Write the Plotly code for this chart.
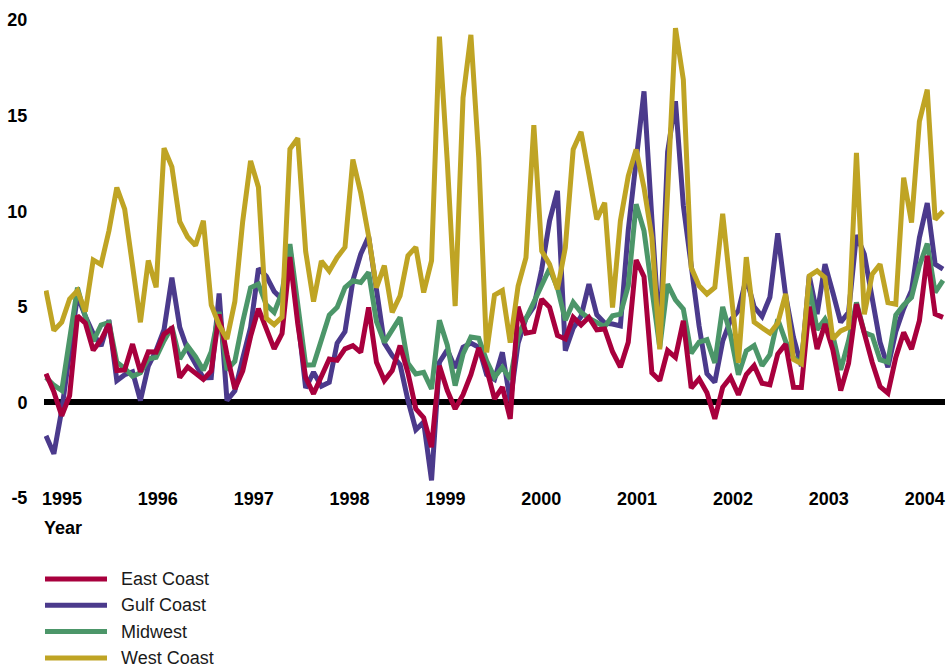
import plotly.graph_objects as go

# ---------------- data ----------------
series_names = ["East Coast", "Gulf Coast", "Midwest", "West Coast"]
year_labels = ["1995", "1996", "1997", "1998", "1999", "2000", "2001", "2002", "2003", "2004"]
y_tick_values = [-5, 0, 5, 10, 15, 20]
y_tick_labels = ["-5", "0", "5", "10", "15", "20"]

east_coast = [
    1.5, 0.55, -0.7, 0.35, 4.53, 4.15, 2.73, 3.27, 4.1, 1.67,
    1.7, 3.05, 1.6, 2.65, 2.63, 3.57, 3.87, 1.3, 1.85, 1.55,
    1.2, 1.65, 4.6, 2.5, 0.7, 1.65, 3.45, 4.9, 3.8, 2.8,
    3.6, 7.6, 4.1, 1.3, 0.45, 1.3, 2.27, 2.2, 2.8, 2.97,
    2.62, 4.97, 2.1, 1.14, 1.66, 2.97, 1.55, -0.34, -0.8, -2.34,
    1.92, 0.62, -0.34, 0.4, 1.45, 2.85, 1.75, 0.18, 0.8, -0.86,
    5.0, 3.62, 3.7, 5.4, 4.97, 3.5, 3.32, 4.45, 4.05, 4.45,
    3.8, 3.84, 2.65, 1.84, 3.15, 7.45, 6.58, 1.55, 1.14, 2.71,
    2.36, 4.27, 0.75, 1.23, 0.5, -0.86, 0.79, 1.31, 0.4, 1.45,
    1.92, 1.0, 0.92, 2.53, 3.05, 0.79, 0.78, 5.0, 2.79, 4.1,
    2.75, 0.62, 2.05, 5.14, 3.6, 2.1, 0.83, 0.48, 2.35, 3.66,
    2.79, 4.27, 7.67, 4.62, 4.45,
]

gulf_coast = [
    -1.75, -2.69, -0.4, 2.6, 5.6, 4.5, 3.6, 2.95, 4.3, 1.14,
    1.45, 1.6, 0.1, 1.9, 2.72, 3.8, 6.53, 3.92, 2.75, 2.0,
    1.28, 1.3, 5.7, 0.1, 0.6, 2.3, 3.92, 7.0, 6.6, 5.8,
    5.4, 8.1, 4.3, 0.75, 1.58, 0.85, 1.05, 3.1, 3.7, 6.37,
    7.76, 8.67, 5.9, 3.1, 2.45, 1.97, 0.1, -1.43, -1.03, -4.08,
    2.1, 2.75, 1.8, 2.88, 3.1, 2.88, 1.45, 1.2, 2.62, 0.05,
    3.1, 4.4, 5.0, 6.95, 9.5, 11.06, 2.71, 3.88, 4.5, 6.19,
    4.58, 4.15, 4.1, 4.0, 9.0, 12.5, 16.27, 9.6, 3.3, 13.1,
    15.75, 10.3, 7.0, 4.0, 1.5, 1.05, 3.2, 4.3, 4.8, 6.5,
    5.0, 4.5, 5.5, 8.85, 5.6, 3.4, 1.9, 6.62, 4.62, 7.23,
    5.75, 4.19, 4.71, 8.75, 7.75, 5.5, 3.15, 1.84, 3.7, 4.9,
    5.85, 8.62, 10.42, 7.23, 6.97,
]

midwest = [
    1.3, 0.9, 0.62, 3.2, 6.0, 4.5, 3.2, 4.05, 4.18, 2.1,
    1.78, 1.37, 1.55, 2.27, 2.36, 3.23, 3.95, 2.27, 2.95, 2.4,
    1.68, 2.65, 4.73, 1.7, 2.15, 4.22, 6.0, 6.19, 5.1, 4.71,
    5.75, 8.28, 5.0, 1.95, 1.97, 3.35, 4.57, 4.97, 6.01, 6.36,
    6.27, 6.8, 4.23, 3.14, 3.84, 4.45, 2.05, 1.49, 1.57, 0.7,
    4.29, 3.0, 0.88, 2.53, 3.42, 3.36, 2.18, 1.31, 1.84, 1.2,
    3.5, 4.36, 5.23, 6.15, 7.0, 6.0, 4.3, 5.23, 4.71, 4.4,
    4.19, 3.96, 4.53, 4.62, 6.1, 10.37, 8.97, 5.8, 2.88, 6.19,
    5.36, 4.88, 2.57, 3.15, 3.28, 2.06, 5.0, 3.53, 1.45, 2.7,
    2.97, 1.92, 2.5, 4.35, 3.2, 2.35, 2.05, 6.1, 3.8, 4.36,
    3.5, 1.7, 3.23, 5.23, 3.65, 3.49, 2.23, 2.1, 4.57, 5.1,
    5.49, 7.15, 8.3, 5.75, 6.38,
]

west_coast = [
    5.85, 3.76, 4.19, 5.41, 5.85, 4.75, 7.45, 7.21, 8.98, 11.24,
    10.11, 7.2, 4.19, 7.42, 6.02, 13.3, 12.32, 9.45, 8.65, 8.2,
    9.5, 5.1, 4.05, 3.32, 5.27, 9.47, 12.63, 11.25, 4.4, 4.07,
    4.46, 13.25, 13.82, 7.9, 5.27, 7.4, 6.87, 7.58, 8.12, 12.7,
    10.95, 8.7, 6.0, 7.15, 4.71, 5.58, 7.67, 8.12, 5.75, 7.41,
    19.13, 12.6, 5.03, 15.94, 19.22, 12.8, 2.62, 5.62, 5.85, 3.13,
    6.09, 7.57, 14.5, 7.92, 7.22, 5.92, 8.09, 13.23, 14.15, 11.92,
    9.57, 10.44, 4.96, 9.49, 11.84, 13.23, 11.23, 8.62, 2.78, 11.0,
    19.58, 16.88, 7.05, 6.1, 5.67, 6.01, 9.86, 6.0, 2.07, 7.6,
    4.2, 3.9, 3.62, 4.15, 5.68, 2.25, 2.02, 6.62, 6.88, 6.53,
    3.31, 3.74, 3.92, 13.05, 4.61, 6.7, 7.22, 5.22, 5.13, 11.75,
    9.4, 14.7, 16.36, 9.57, 10.0,
]

series_values = [east_coast, gulf_coast, midwest, west_coast]
series_colors = ["#A8003D", "#4B3A8C", "#4C9669", "#BFA424"]

# ---------------- layout geometry (pixels) ----------------
W, H = 947, 667
ML, MR, MT, MB = 44, 2, 20, 169
PW, PH = W - ML - MR, H - MT - MB
n = len(east_coast)
x_idx = list(range(n))
first_px, last_px = 46, 943
step = (last_px - first_px) / (n - 1)
x_range = [-(first_px - ML) / step, (n - 1) + (W - MR - last_px) / step]
# year labels placed where the original draws them
tick_pos = [(62 + 95.85 * k - first_px) / step for k in range(len(year_labels))]

FONT = "Liberation Sans, Arial, Helvetica, sans-serif"


def px_to_paper_x(px):
    return (px - ML) / PW


def px_to_paper_y(py):
    return (MT + PH - py) / PH


fig = go.Figure()
draw_order = [1, 2, 0, 3]  # Gulf, Midwest, East, West (West on top)
for k in draw_order:
    fig.add_trace(go.Scatter(
        x=x_idx, y=series_values[k], mode="lines", name=series_names[k],
        line=dict(color=series_colors[k], width=5, shape="linear"),
        showlegend=False, hoverinfo="skip",
    ))

shapes = []
annotations = []
# custom legend
for k, name in enumerate(series_names):
    ypx = 579 + 26.3 * k
    yp = px_to_paper_y(ypx)
    shapes.append(dict(type="line", xref="paper", yref="paper",
                       x0=px_to_paper_x(45), x1=px_to_paper_x(107), y0=yp, y1=yp,
                       line=dict(color=series_colors[k], width=5)))
    annotations.append(dict(xref="paper", yref="paper", x=px_to_paper_x(119), y=yp,
                            xanchor="left", yanchor="middle", showarrow=False,
                            text=name, font=dict(family=FONT, size=18, color="#1a1a1a")))

# axis title "Year"
annotations.append(dict(xref="paper", yref="paper", x=px_to_paper_x(42), y=px_to_paper_y(528),
                        xanchor="left", yanchor="middle", showarrow=False,
                        text="<b>Year</b>", font=dict(family=FONT, size=18, color="black")))

fig.update_layout(
    width=W, height=H,
    margin=dict(l=ML, r=MR, t=MT, b=MB, pad=0),
    paper_bgcolor="white", plot_bgcolor="white",
    font=dict(family=FONT, size=18, color="black"),
    shapes=shapes, annotations=annotations,
    xaxis=dict(range=x_range, showgrid=False, zeroline=False, showline=False,
               tickmode="array", tickvals=tick_pos, ticktext=year_labels,
               ticks="", tickfont=dict(family=FONT, size=18, color="black", weight="bold"),
               ticklabelstandoff=-12),
    yaxis=dict(range=[-5, 20], showgrid=False, showline=False,
               zeroline=True, zerolinecolor="black", zerolinewidth=6,
               tickmode="array", tickvals=y_tick_values, ticktext=y_tick_labels,
               ticks="outside", ticklen=12, tickcolor="rgba(0,0,0,0)",
               tickfont=dict(family=FONT, size=18, color="black", weight="bold")),
)

fig.write_html("out.html", config={"displayModeBar": False},
               post_script="document.body.style.margin='0';")
